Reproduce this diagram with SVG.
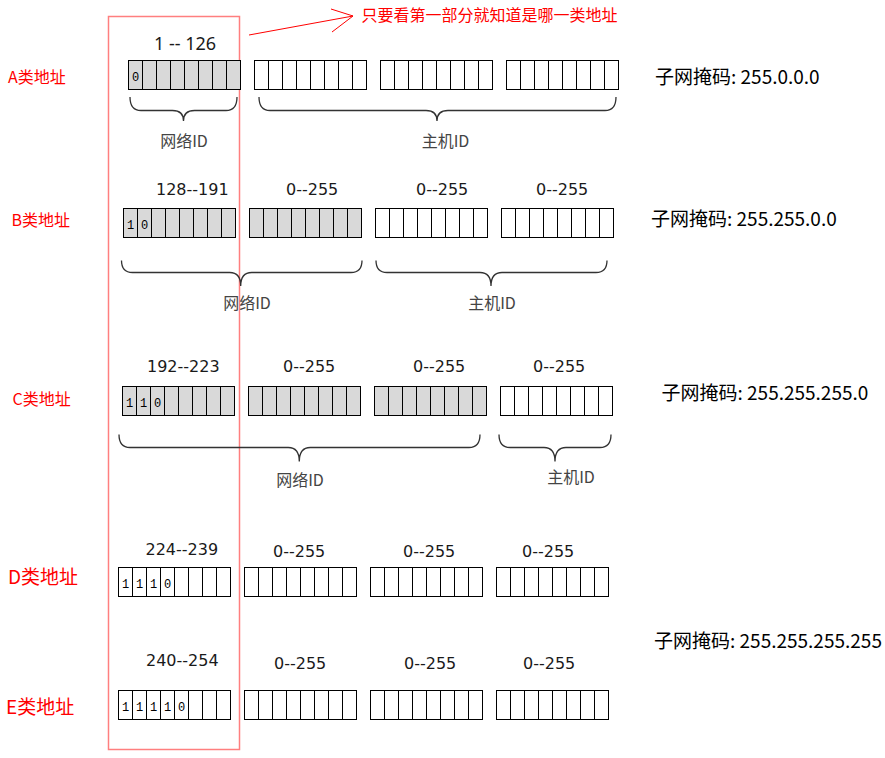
<svg xmlns="http://www.w3.org/2000/svg" width="885" height="758" viewBox="0 0 885 758">
<defs>
<style>
.g{fill:#d9d9d9;stroke:#000;stroke-width:1}
.w{fill:#fff;stroke:#000;stroke-width:1}
.dv{fill:none;stroke:#000;stroke-width:1}
.bit{font-family:"Liberation Mono",monospace;font-size:12px;fill:#000;text-anchor:middle}
.num{font-family:"DejaVu Sans",sans-serif;font-size:16px;fill:#1a1a1a}
.cls{font-family:"Noto Sans CJK SC","Noto Sans",sans-serif;fill:#ff0000}
.mask{font-family:"Noto Sans CJK SC","Noto Sans",sans-serif;font-size:19px;fill:#000}
.lbl{font-family:"Noto Sans CJK SC","Noto Sans",sans-serif;font-size:16px;fill:#444;text-anchor:middle}
.brace{fill:none;stroke:#333;stroke-width:1.3}
</style>
<path id="cells" d="M14,0V29M28,0V29M42,0V29M56,0V29M70,0V29M84,0V29M98,0V29" class="dv"/>
</defs>
<rect width="885" height="758" fill="#fff"/>

<!-- highlight rectangle -->
<g id="highlight">
<rect x="108.5" y="16.5" width="131" height="733" fill="none" stroke="#ff7f7f" stroke-width="1.5"/>
</g>

<!-- Row A -->
<g id="A">
<text class="cls" x="8" y="82.5" font-size="16">A类地址</text>
<text x="154" y="50" font-family="Noto Sans, sans-serif" font-size="18" fill="#1a1a1a">1 -- 126</text>
<g id="A-b1" transform="translate(128.5,60.5)"><rect class="g" width="112" height="29"/><use href="#cells"/><text class="bit" x="7" y="20">0</text></g>
<g id="A-b2" transform="translate(254.5,60.5)"><rect class="w" width="112" height="29"/><use href="#cells"/></g>
<g id="A-b3" transform="translate(380.5,60.5)"><rect class="w" width="112" height="29"/><use href="#cells"/></g>
<g id="A-b4" transform="translate(506.5,60.5)"><rect class="w" width="112" height="29"/><use href="#cells"/></g>
<text class="lbl" x="184" y="147">网络ID</text>
<text class="lbl" x="445.5" y="147">主机ID</text>
<text class="mask" x="655" y="84">子网掩码: 255.0.0.0</text>
</g>

<!-- Row B -->
<g id="B">
<text class="cls" x="11.5" y="225.5" font-size="16">B类地址</text>
<text class="num" x="156" y="195">128--191</text>
<text class="num" x="286" y="195">0--255</text>
<text class="num" x="416" y="195">0--255</text>
<text class="num" x="536" y="195">0--255</text>
<g id="B-b1" transform="translate(123.5,208.5)"><rect class="g" width="112" height="29"/><use href="#cells"/><text class="bit" x="7" y="20">1</text><text class="bit" x="21" y="20">0</text></g>
<g id="B-b2" transform="translate(249.5,208.5)"><rect class="g" width="112" height="29"/><use href="#cells"/></g>
<g id="B-b3" transform="translate(375.5,208.5)"><rect class="w" width="112" height="29"/><use href="#cells"/></g>
<g id="B-b4" transform="translate(501.5,208.5)"><rect class="w" width="112" height="29"/><use href="#cells"/></g>
<text class="lbl" x="247" y="309">网络ID</text>
<text class="lbl" x="492" y="309">主机ID</text>
<text class="mask" x="651" y="226">子网掩码: 255.255.0.0</text>
</g>

<!-- Row C -->
<g id="C">
<text class="cls" x="12.5" y="404.5" font-size="16">C类地址</text>
<text class="num" x="147" y="371.5">192--223</text>
<text class="num" x="283" y="371.5">0--255</text>
<text class="num" x="413" y="371.5">0--255</text>
<text class="num" x="533" y="371.5">0--255</text>
<g id="C-b1" transform="translate(122.5,386.5)"><rect class="g" width="112" height="29"/><use href="#cells"/><text class="bit" x="7" y="20">1</text><text class="bit" x="21" y="20">1</text><text class="bit" x="35" y="20">0</text></g>
<g id="C-b2" transform="translate(248.5,386.5)"><rect class="g" width="112" height="29"/><use href="#cells"/></g>
<g id="C-b3" transform="translate(374.5,386.5)"><rect class="g" width="112" height="29"/><use href="#cells"/></g>
<g id="C-b4" transform="translate(500.5,386.5)"><rect class="w" width="112" height="29"/><use href="#cells"/></g>
<text class="lbl" x="300" y="485.5">网络ID</text>
<text class="lbl" x="571" y="483">主机ID</text>
<text class="mask" x="661.5" y="399.5">子网掩码: 255.255.255.0</text>
</g>

<!-- Row D -->
<g id="D">
<text class="cls" x="8" y="584" font-size="19">D类地址</text>
<text class="num" x="145.5" y="554.5">224--239</text>
<text class="num" x="273" y="556.5">0--255</text>
<text class="num" x="403" y="556.5">0--255</text>
<text class="num" x="522" y="556.5">0--255</text>
<g id="D-b1" transform="translate(118.5,567.5)"><rect class="w" width="112" height="29"/><use href="#cells"/><text class="bit" x="7" y="20">1</text><text class="bit" x="21" y="20">1</text><text class="bit" x="35" y="20">1</text><text class="bit" x="49" y="20">0</text></g>
<g id="D-b2" transform="translate(244.5,567.5)"><rect class="w" width="112" height="29"/><use href="#cells"/></g>
<g id="D-b3" transform="translate(370.5,567.5)"><rect class="w" width="112" height="29"/><use href="#cells"/></g>
<g id="D-b4" transform="translate(496.5,567.5)"><rect class="w" width="112" height="29"/><use href="#cells"/></g>
</g>

<!-- Row E -->
<g id="E">
<text class="cls" x="6" y="714" font-size="19">E类地址</text>
<text class="num" x="146" y="666">240--254</text>
<text class="num" x="274" y="668.5">0--255</text>
<text class="num" x="404" y="668.5">0--255</text>
<text class="num" x="523" y="668.5">0--255</text>
<g id="E-b1" transform="translate(118.5,690.5)"><rect class="w" width="112" height="29"/><use href="#cells"/><text class="bit" x="7" y="20">1</text><text class="bit" x="21" y="20">1</text><text class="bit" x="35" y="20">1</text><text class="bit" x="49" y="20">1</text><text class="bit" x="63" y="20">0</text></g>
<g id="E-b2" transform="translate(244.5,690.5)"><rect class="w" width="112" height="29"/><use href="#cells"/></g>
<g id="E-b3" transform="translate(370.5,690.5)"><rect class="w" width="112" height="29"/><use href="#cells"/></g>
<g id="E-b4" transform="translate(496.5,690.5)"><rect class="w" width="112" height="29"/><use href="#cells"/></g>
<text class="mask" x="654" y="648">子网掩码: 255.255.255.255</text>
</g>

<!-- note -->
<g id="note">
<text class="cls" x="361.5" y="21" font-size="16">只要看第一部分就知道是哪一类地址</text>
</g>

<!-- connectors: braces and arrow -->
<g id="connectors">
<path class="brace" d="M130,97 Q130,110.5 141,110.5 L172.5,110.5 Q183.5,110.5 183.5,121 Q183.5,110.5 194.5,110.5 L226,110.5 Q237,110.5 237,97"/>
<path class="brace" d="M259,97 Q259,110.5 270,110.5 L426,110.5 Q437,110.5 437,121 Q437,110.5 448,110.5 L605,110.5 Q616,110.5 616,97"/>
<path class="brace" d="M121.5,260.5 Q121.5,272.5 132.5,272.5 L229.7,272.5 Q240.7,272.5 240.7,286 Q240.7,272.5 251.7,272.5 L351,272.5 Q362,272.5 362,260.5"/>
<path class="brace" d="M376,260.5 Q376,272.5 387,272.5 L480,272.5 Q491,272.5 491,286 Q491,272.5 502,272.5 L596,272.5 Q607,272.5 607,260.5"/>
<path class="brace" d="M119,434.5 Q119,447.5 130,447.5 L288.3,447.5 Q299.3,447.5 299.3,461.5 Q299.3,447.5 310.3,447.5 L469,447.5 Q480,447.5 480,434.5"/>
<path class="brace" d="M499,434.5 Q499,447.5 510,447.5 L544,447.5 Q555,447.5 555,461.5 Q555,447.5 566,447.5 L600,447.5 Q611,447.5 611,434.5"/>
<path d="M249,35 L353,16 M331,9 L353,16 L332,32" fill="none" stroke="#ff0000" stroke-width="1"/>
</g>
</svg>
